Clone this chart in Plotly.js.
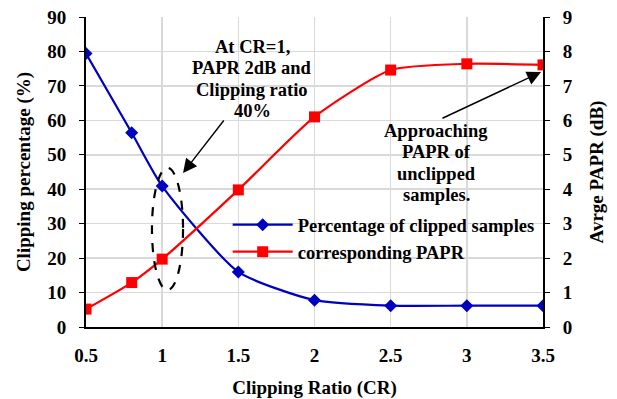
<!DOCTYPE html>
<html><head><meta charset="utf-8">
<script src="https://cdn.plot.ly/plotly-3.0.1.min.js"></script>
<style>html,body{margin:0;padding:0;background:#fff}#chart{width:617px;height:399px}</style>
</head><body><div id="chart"></div>
<script>
const clippingRatio = [0.5, 0.8, 1, 1.5, 2, 2.5, 3, 3.5];
const clippedPct = [79.4, 56.4, 40.9, 16.0, 7.8, 6.2, 6.2, 6.2];
const papr = [0.52, 1.29, 1.97, 3.98, 6.1, 7.46, 7.64, 7.61];
const xTicks = [0.5, 1, 1.5, 2, 2.5, 3, 3.5];
const note1Lines = ['At CR=1,', 'PAPR 2dB and', 'Clipping ratio', '40%'];
const note2Lines = ['Approaching', 'PAPR of', 'unclipped', 'samples.'];

const F = 'Liberation Serif, Times New Roman, serif';
const traces = [
  {x: clippingRatio, y: clippedPct, name: 'Percentage of clipped samples', type: 'scatter', mode: 'lines+markers',
   line: {color: '#0000C0', width: 2.2, shape: 'spline', smoothing: 0.6},
   marker: {symbol: 'diamond', size: 10, color: '#0000C0'}, yaxis: 'y'},
  {x: clippingRatio, y: papr, name: 'corresponding PAPR', type: 'scatter', mode: 'lines+markers',
   line: {color: '#FF0000', width: 2.2, shape: 'spline', smoothing: 0.6},
   marker: {symbol: 'square', size: 11, color: '#FF0000'}, yaxis: 'y2'}
];
const PH = 310, PB = 327;
function lineNotes(lines, cx, y0, step) {
  return lines.map((t, i) => ({
    xref: 'paper', yref: 'paper', x: (cx - 86) / 457, y: (PB - (y0 + i * step)) / PH,
    xanchor: 'center', yanchor: 'middle', text: t, showarrow: false,
    font: {family: F, size: 18.5, weight: 'bold', color: '#000'}
  }));
}
const layout = {
  width: 617, height: 399,
  margin: {l: 86, r: 74, t: 17, b: 72},
  paper_bgcolor: '#fff', plot_bgcolor: '#fff',
  font: {family: F, size: 18, color: '#000'},
  showlegend: true,
  legend: {x: 0.31, y: 0.39, xanchor: 'left', yanchor: 'top', bgcolor: 'rgba(0,0,0,0)',
           font: {family: F, size: 18.5, color: '#000', weight: 'bold'}, tracegroupgap: 0, itemwidth: 60},
  xaxis: {range: [0.5, 3.5], tickvals: xTicks, ticktext: xTicks.map(String), showgrid: true, gridcolor: '#d9d9d9', gridwidth: 1.5,
          showline: true, linecolor: '#000', linewidth: 2, ticks: '', zeroline: false, ticklabelstandoff: 10,
          tickfont: {family: F, size: 19, weight: 'bold'},
          title: {text: 'Clipping Ratio (CR)', font: {family: F, size: 19, weight: 'bold'}, standoff: 20}},
  yaxis: {range: [0, 90], dtick: 10, showgrid: true, gridcolor: '#d9d9d9', gridwidth: 1.5,
          showline: true, linecolor: '#000', linewidth: 2, ticks: 'outside', ticklen: 5, tickcolor: '#000', zeroline: false,
          ticklabelstandoff: 9,
          tickfont: {family: F, size: 19, weight: 'bold'},
          title: {text: 'Clipping percentage (%)', font: {family: F, size: 19, weight: 'bold'}, standoff: 12}},
  yaxis2: {range: [0, 9], dtick: 1, overlaying: 'y', side: 'right', showgrid: false,
           showline: true, linecolor: '#000', linewidth: 2, ticks: 'outside', ticklen: 5, tickcolor: '#000', zeroline: false,
           ticklabelstandoff: 9,
           tickfont: {family: F, size: 19, weight: 'bold'},
           title: {text: 'Avrge PAPR (dB)', font: {family: F, size: 19, weight: 'bold'}, standoff: 18}},
  shapes: [
    {type: 'circle', xref: 'x', yref: 'y', x0: 0.933, x1: 1.137, y0: 10.7, y1: 46.2,
     line: {color: '#000', width: 2.2, dash: 'dash'}}
  ],
  annotations: [
    {xref: 'x', yref: 'y', x: 1.137, y: 44.7, ax: 1.412, ay: 60.4, axref: 'x', ayref: 'y', text: '',
     showarrow: true, arrowhead: 2, arrowsize: 2, arrowwidth: 1.4, arrowcolor: '#000'},
    {xref: 'x', yref: 'y', x: 3.487, y: 74.0, ax: 2.83, ay: 60.4, axref: 'x', ayref: 'y', text: '',
     showarrow: true, arrowhead: 2, arrowsize: 2, arrowwidth: 1.4, arrowcolor: '#000'}
  ].concat(lineNotes(note1Lines, 252, 47, 21.3), lineNotes(note2Lines, 436, 131, 21.3))
};
Plotly.newPlot('chart', traces, layout, {displayModeBar: false, staticPlot: true});
</script></body></html>
